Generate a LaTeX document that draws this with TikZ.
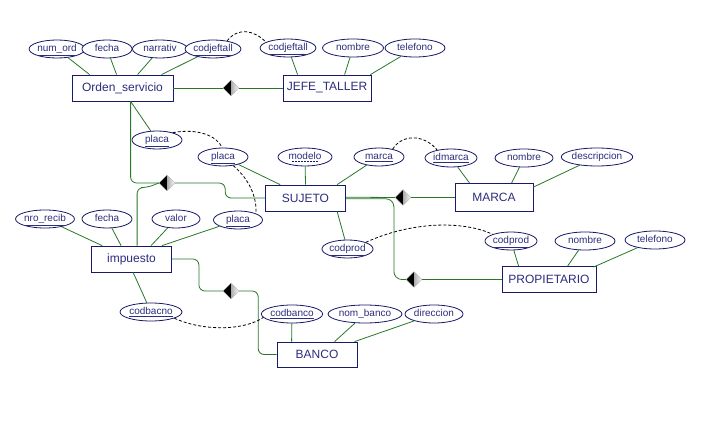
\documentclass[tikz,border=0pt]{standalone}
\usepackage{fontspec}
\setmainfont{Liberation Sans}
\usetikzlibrary{shapes.geometric}
\definecolor{navy}{RGB}{25,25,105}
\definecolor{txt}{RGB}{45,45,125}
\definecolor{lgreen}{RGB}{40,120,40}
\begin{document}
\begin{tikzpicture}[x=1pt,y=-1pt,
 ent/.style={draw=navy, line width=0.8pt, fill=white, font=\fontsize{12}{14}\selectfont, text=txt, inner sep=0pt, minimum height=26pt},
 att/.style={ellipse, draw=navy, line width=0.8pt, fill=white, font=\fontsize{10}{12}\selectfont, text=txt, inner sep=0pt, minimum height=18pt, text height=7pt, text depth=2pt},
 conn/.style={draw=lgreen, line width=0.8pt},
 dsh/.style={draw=black, line width=0.8pt, dash pattern=on 3pt off 2pt},
 rel/.style={diamond, minimum width=16pt, minimum height=16pt, inner sep=0pt, draw=gray!60, line width=0.4pt,
   path picture={
     \fill[black] (path picture bounding box.south west) rectangle (path picture bounding box.north);
     \shade[left color=gray!65, right color=white] (path picture bounding box.south) rectangle (path picture bounding box.north east);
   }}
]
\fill[white] (0,0) rectangle (710,438);
\useasboundingbox (0,0) rectangle (710,438);

% entities
\node[ent, minimum width=101pt] (os) at (122.5,88) {Orden\_servicio};
\node[ent, minimum width=88pt] (jt) at (327,88) {JEFE\_TALLER};
\node[ent, minimum width=80pt] (su) at (305.5,198) {SUJETO};
\node[ent, minimum width=78pt, minimum height=28pt] (ma) at (494,197.5) {MARCA};
\node[ent, minimum width=80pt] (im) at (131.5,259) {impuesto};
\node[ent, minimum width=94pt] (pr) at (549,279.5) {PROPIETARIO};
\node[ent, minimum width=80pt, minimum height=25pt] (ba) at (317,354.5) {BANCO};

% relationships
\node[rel] (d1) at (231,88) {};
\node[rel] (d2) at (167,183) {};
\node[rel] (d3) at (403,197.5) {};
\node[rel] (d4) at (414,279.5) {};
\node[rel] (d5) at (231,291) {};

% attributes
\node[att, minimum width=50pt] (a1) at (57,49) {\underline{num\_ord}};
\node[att, minimum width=50pt] (a2) at (107,49) {fecha};
\node[att, minimum width=55pt] (a3) at (160,49) {narrativ};
\node[att, minimum width=51pt] (a4) at (213,49) {\underline{codjeftall}};
\node[att, minimum width=51pt] (b1) at (288,48) {\underline{codjeftall}};
\node[att, minimum width=61pt] (b2) at (353,48) {nombre};
\node[att, minimum width=60pt] (b3) at (415,48) {telefono};
\node[att, minimum width=50pt] (p1) at (157,140) {\underline{placa}};
\node[att, minimum width=50pt] (p2) at (223,157) {\underline{placa}};
\node[att, minimum width=54pt] (s2) at (305,157) {modelo};
\node[att, minimum width=50pt] (s3) at (379,157) {\underline{marca}};
\node[att, minimum width=52pt] (m1) at (451,158) {\underline{idmarca}};
\node[att, minimum width=58pt] (m2) at (524,158) {nombre};
\node[att, minimum width=61pt] (m3) at (597,157) {descripcion};
\node[att, minimum width=51pt] (c1) at (347.5,249) {\underline{codprod}};
\node[att, minimum width=52pt] (c2) at (511,241) {\underline{codprod}};
\node[att, minimum width=60pt] (c3) at (585,241) {nombre};
\node[att, minimum width=60pt] (c4) at (655,240) {telefono};
\node[att, minimum width=46pt] (i1) at (45,219) {\underline{nro\_recib}};
\node[att, minimum width=50pt] (i2) at (107,219) {fecha};
\node[att, minimum width=48pt] (i3) at (176,219) {valor};
\node[att, minimum width=49pt] (i4) at (238,220) {\underline{placa}};
\node[att, minimum width=62pt] (k1) at (151,312) {\underline{codbacno}};
\node[att, minimum width=50pt] (k2) at (292,314) {\underline{codbanco}};
\node[att, minimum width=60pt] (k3) at (365,314) {nom\_banco};
\node[att, minimum width=58pt] (k4) at (434,314) {direccion};
\draw[navy, line width=0.4pt, dash pattern=on 2pt off 1pt] ([xshift=-13pt,yshift=-4pt]s2.center) -- ([xshift=13pt,yshift=-4pt]s2.center);

% attribute links
\draw[conn] (a1) -- ([xshift=18pt]os.north west);
\draw[conn] (a2) -- ([xshift=45pt]os.north west);
\draw[conn] (a3) -- ([xshift=66pt]os.north west);
\draw[conn] (a4) -- ([xshift=90pt]os.north west);
\draw[conn] (b1) -- ([xshift=15pt]jt.north west);
\draw[conn] (b2) -- ([xshift=62pt]jt.north west);
\draw[conn] (b3) -- ([xshift=-1pt]jt.north east);
\draw[conn] ([xshift=59pt]os.south west) -- (p1);
\draw[conn] (p2) -- ([xshift=15pt]su.north west);
\draw[conn] (s2) -- (su.north);
\draw[conn] (s3) -- ([xshift=72pt]su.north west);
\draw[conn] ([xshift=72pt]su.south west) -- (c1);
\draw[conn] (m1) -- ([xshift=15pt]ma.north west);
\draw[conn] (m2) -- ([xshift=57pt]ma.north west);
\draw[conn] (m3) -- ([yshift=-4pt]ma.north east);
\draw[conn] (c2) -- ([xshift=17pt]pr.north west);
\draw[conn] (c3) -- ([xshift=66pt]pr.north west);
\draw[conn] (c4) -- ([xshift=-3pt,yshift=-1pt]pr.north east);
\draw[conn] (i1) -- ([xshift=11pt]im.north west);
\draw[conn] (i2) -- ([xshift=30pt]im.north west);
\draw[conn] (i3) -- ([xshift=60pt]im.north west);
\draw[conn] (i4) -- ([xshift=71pt]im.north west);
\draw[conn] ([xshift=42pt]im.south west) -- (k1);
\draw[conn] (k2) -- ([xshift=15pt]ba.north west);
\draw[conn] (k3) -- ([xshift=58pt]ba.north west);
\draw[conn] (k4) -- ([xshift=78pt]ba.north west);

% relationship links
\draw[conn] (os.east) -- (d1.west);
\draw[conn] (d1.east) -- (jt.west);
\draw[conn, rounded corners=6pt] ([xshift=59pt]os.south west) |- (d2.west);
\draw[conn, rounded corners=6pt] ([xshift=46pt]im.north west) |- ++(10,-58) -- (d2.west);
\draw[conn, rounded corners=6pt] (d2.east) -- ++(50,0) |- (su.west);
\draw[conn] ([yshift=0.8pt]su.east) -- (d3.west);
\draw[conn] (d3.east) -- (ma.west);
\draw[conn, rounded corners=8pt] ([yshift=-0.8pt]su.east) -- ++(48,0) |- (d4.west);
\draw[conn] (d4.east) -- (pr.west);
\draw[conn, rounded corners=6pt] (im.east) -- ++(27,0) |- (d5.west);
\draw[conn, rounded corners=6pt] (d5.east) -- ++(19,0) |- (ba.west);

% dashed links
\draw[dsh] (a4.30) .. controls (238,27) and (254,30) .. (b1.165);
\draw[dsh] (p1.25) .. controls (198,128) and (217,136) .. (p2.95);
\draw[dsh] (p2.-40) .. controls (250,180) and (257,198) .. (i4.20);
\draw[dsh] (s3.30) .. controls (402,134) and (424,134) .. (m1.150);
\draw[dsh] (c1.20) .. controls (410,222) and (462,220) .. (c2.160);
\draw[dsh] (k1.-15) .. controls (205,332) and (245,330) .. (k2.187);
\end{tikzpicture}
\end{document}
